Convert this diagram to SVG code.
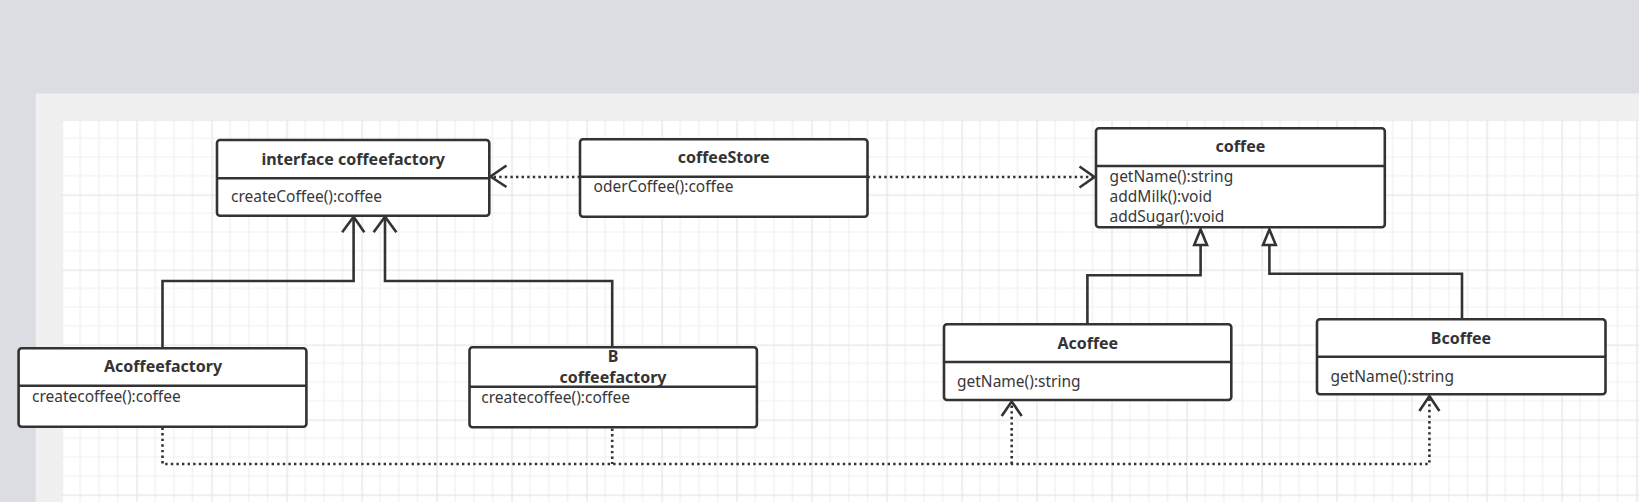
<svg xmlns="http://www.w3.org/2000/svg" width="1639" height="502" viewBox="0 0 1639 502">
<defs>
<pattern id="grid" patternUnits="userSpaceOnUse" x="61.4" y="119.5" width="75" height="75">
<rect width="75" height="75" fill="#ffffff"/>
<path d="M18.75 0V75M37.5 0V75M56.25 0V75M0 18.75H75M0 37.5H75M0 56.25H75" stroke="#f0f0f0" stroke-width="1.2" fill="none"/>
<path d="M0.6 0V75M0 0.6H75" stroke="#e6e6e6" stroke-width="1.4" fill="none"/>
</pattern>
<style>
.box{fill:#ffffff;stroke:#333333;stroke-width:2.6}
.div{stroke:#333333;stroke-width:2.6}
.title{font-family:"Noto Sans","Open Sans","Liberation Sans",sans-serif;font-size:16px;font-weight:bold;fill:#333333;text-anchor:middle}
.m{font-family:"Noto Sans","Open Sans","Liberation Sans",sans-serif;font-size:15.5px;fill:#383838}
.solid{fill:none;stroke:#333333;stroke-width:2.6}
.dot{fill:none;stroke:#333333;stroke-width:2.6;stroke-dasharray:2.4 3.2}
.head{fill:none;stroke:#333333;stroke-width:2.6;stroke-linejoin:miter}
.tri{fill:#ffffff;stroke:#333333;stroke-width:2.6;stroke-linejoin:miter}
</style>
</defs>
<rect x="0" y="0" width="1639" height="502" fill="#dcdde2"/>
<rect x="35.7" y="93.5" width="1603.3" height="408.5" fill="#f0f0f0"/>
<rect x="61.4" y="119.5" width="1577.6" height="382.5" fill="url(#grid)"/>

<g id="connectors">
<path class="solid" d="M162.5 348.3V281H353.6V218"/>
<path class="head" d="M342.2 232.3L353.6 216.8L364.3 232.3"/>
<path class="solid" d="M612.2 347.3V281H385V218"/>
<path class="head" d="M373.6 232.3L385 216.8L396.4 232.3"/>
<path class="solid" d="M1087.4 324.3V275.3H1200.6V245"/>
<path class="tri" d="M1194.2 245L1200.6 229.5L1207 245Z"/>
<path class="solid" d="M1462 319.3V273.7H1269.4V245"/>
<path class="tri" d="M1263 245L1269.4 229.5L1275.8 245Z"/>
<path class="dot" d="M580 177H492"/>
<path class="head" d="M506.5 165.5L490.5 176.5L506.5 187"/>
<path class="dot" d="M867.5 177H1093"/>
<path class="head" d="M1079.5 166.5L1094.5 177L1079.5 187.5"/>
<path class="dot" d="M162.5 427.5V464H1429.4V397"/>
<path class="dot" d="M612.2 428.5V464"/>
<path class="dot" d="M1011.7 464V402"/>
<path class="head" d="M1001.7 416L1011.7 401.5L1021.7 416"/>
<path class="head" d="M1419.4 411L1429.4 396L1439.4 411"/>
</g>

<g id="interface-coffeefactory">
<rect class="box" x="217" y="140" width="272.3" height="75.7" rx="3"/>
<line class="div" x1="217" y1="178.3" x2="489.3" y2="178.3"/>
<text class="title" x="353.2" y="165">interface coffeefactory</text>
<text class="m" x="231" y="201.7">createCoffee():coffee</text>
</g>

<g id="coffeeStore">
<rect class="box" x="580" y="139.3" width="287.5" height="77.4" rx="3"/>
<line class="div" x1="580" y1="176.7" x2="867.5" y2="176.7"/>
<text class="title" x="723.7" y="163.3">coffeeStore</text>
<text class="m" x="593.6" y="191.7">oderCoffee():coffee</text>
</g>

<g id="coffee">
<rect class="box" x="1096" y="128.3" width="288.8" height="99" rx="3"/>
<line class="div" x1="1096" y1="166" x2="1384.8" y2="166"/>
<text class="title" x="1240.4" y="152.3">coffee</text>
<text class="m" x="1109.6" y="181.7">getName():string</text>
<text class="m" x="1109.6" y="201.7">addMilk():void</text>
<text class="m" x="1109.6" y="222.3">addSugar():void</text>
</g>

<g id="Acoffeefactory">
<rect class="box" x="18.6" y="348.3" width="287.8" height="78.4" rx="3"/>
<line class="div" x1="18.6" y1="385.7" x2="306.4" y2="385.7"/>
<text class="title" x="163" y="372">Acoffeefactory</text>
<text class="m" x="32" y="401.7">createcoffee():coffee</text>
</g>

<g id="Bcoffeefactory">
<rect class="box" x="469.5" y="347.3" width="287.4" height="80" rx="3"/>
<line class="div" x1="469.5" y1="386.7" x2="756.9" y2="386.7"/>
<text class="title" x="613" y="362.3">B</text>
<text class="title" x="613" y="382.7">coffeefactory</text>
<text class="m" x="481.3" y="402.7">createcoffee():coffee</text>
</g>

<g id="Acoffee">
<rect class="box" x="944" y="324.3" width="287.3" height="75.7" rx="3"/>
<line class="div" x1="944" y1="362" x2="1231.3" y2="362"/>
<text class="title" x="1087.8" y="349.3">Acoffee</text>
<text class="m" x="957" y="386.7">getName():string</text>
</g>

<g id="Bcoffee">
<rect class="box" x="1317" y="319.3" width="288.5" height="75" rx="3"/>
<line class="div" x1="1317" y1="356.7" x2="1605.5" y2="356.7"/>
<text class="title" x="1461" y="344.3">Bcoffee</text>
<text class="m" x="1330.4" y="381.7">getName():string</text>
</g>
</svg>
